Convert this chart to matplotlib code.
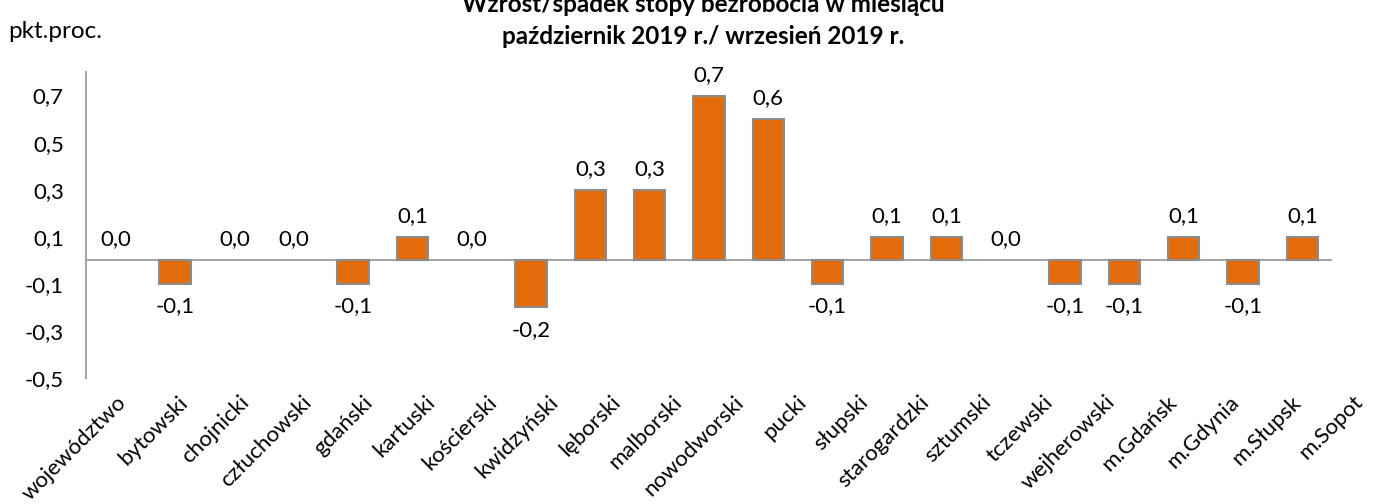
import matplotlib
matplotlib.use("Agg")
import matplotlib.pyplot as plt
import matplotlib.transforms as mtransforms
import numpy as np

categories = ["województwo", "bytowski", "chojnicki", "człuchowski", "gdański", "kartuski",
              "kościerski", "kwidzyński", "lęborski", "malborski", "nowodworski", "pucki",
              "słupski", "starogardzki", "sztumski", "tczewski", "wejherowski", "m.Gdańsk",
              "m.Gdynia", "m.Słupsk", "m.Sopot"]
values = [0.0, -0.1, 0.0, 0.0, -0.1, 0.1, 0.0, -0.2, 0.3, 0.3, 0.7, 0.6,
          -0.1, 0.1, 0.1, 0.0, -0.1, -0.1, 0.1, -0.1, 0.1]
yticks = [-0.5, -0.3, -0.1, 0.1, 0.3, 0.5, 0.7]

plt.rcParams['font.family'] = ['Lato', 'DejaVu Sans']
FS = 16

fig = plt.figure(figsize=(13.86, 5.04), dpi=100)
ax = fig.add_axes([86/1386, 1 - 378/504, (1332-86)/1386, (378-72)/504])

x = np.arange(len(categories))
lw = [1.5 if v != 0 else 0 for v in values]
ax.bar(x, values, width=0.53, color="#E36C0A", edgecolor="#8C8C8C", linewidth=lw, zorder=3)
ax.axhline(0, color="#A6A6A6", linewidth=1.5, zorder=2)

ax.set_xlim(-0.5, len(categories) - 0.5)
ax.set_ylim(-0.5, 0.8)
ax.set_yticks(yticks)
ax.set_yticklabels([f"{t:.1f}".replace(".", ",") for t in yticks], fontsize=FS)
ax.tick_params(axis='y', length=0, pad=16)
ax.set_xticks(x)
ax.set_xticklabels(categories, rotation=45, ha='right', rotation_mode='anchor', fontsize=FS)
ax.tick_params(axis='x', length=0, pad=10)
# the reference spreads its category labels slightly wider than the bars
for i, lab in enumerate(ax.get_xticklabels()):
    lab.set_transform(lab.get_transform() +
                      mtransforms.ScaledTranslation(i * 2.5 / 100, 0, fig.dpi_scale_trans))

for s in ['top', 'right', 'bottom']:
    ax.spines[s].set_visible(False)
ax.spines['left'].set_color("#A6A6A6")
ax.spines['left'].set_linewidth(1.5)

for xi, v in zip(x, values):
    lab = f"{v:.1f}".replace(".", ",")
    off = -16 if v < 0 else 15
    ax.annotate(lab, (xi, v), xytext=(0, off), textcoords='offset points',
                ha='center', va='center', fontsize=FS)

fig.text(703/1386, 1 - 4/504, "Wzrost/spadek stopy bezrobocia w miesiącu", ha='center', va='center',
         fontsize=17.5, fontweight='bold')
fig.text(703/1386, 1 - 37/504, "październik 2019 r./ wrzesień 2019 r.", ha='center', va='center',
         fontsize=17.5, fontweight='bold')
fig.text(8/1386, 1 - 32/504, "pkt.proc.", ha='left', va='center', fontsize=17.5)

fig.savefig("out.png", dpi=100)
